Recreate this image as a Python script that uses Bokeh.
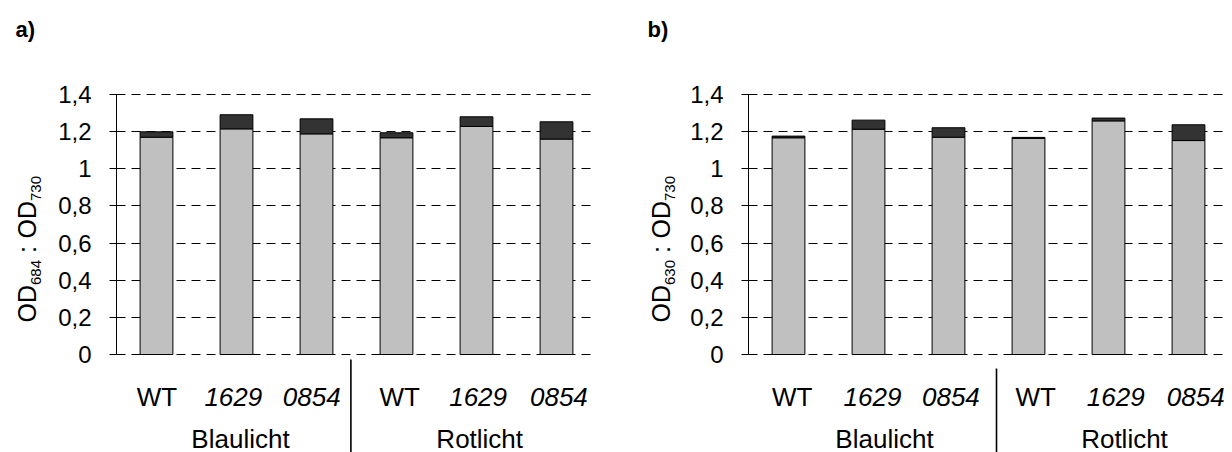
import math
from bokeh.plotting import figure
from bokeh.models import ColumnDataSource, Range1d, FixedTicker, CustomJSTickFormatter
from bokeh.layouts import row
from bokeh.embed import file_html
from bokeh.resources import INLINE
from bokeh.core.properties import value

# ---- data ----
categories = ["WT", "1629", "0854", "WT", "1629", "0854"]
cat_styles = ["normal", "italic", "italic", "normal", "italic", "italic"]
groups = ["Blaulicht", "Rotlicht"]
a_base = [1.170, 1.215, 1.188, 1.167, 1.228, 1.160]
a_extra = [0.029, 0.076, 0.081, 0.027, 0.052, 0.093]
b_base = [1.167, 1.213, 1.170, 1.164, 1.258, 1.152]
b_extra = [0.009, 0.049, 0.051, 0.005, 0.015, 0.085]
y_ticks = [0, 0.2, 0.4, 0.6, 0.8, 1.0, 1.2, 1.4]

# ---- style / layout ----
LIGHT = "#c0c0c0"
DARK = "#333333"
FONT = "Liberation Sans"
FONT_V = value(FONT)
PX = 260 / 1.4          # pixels per y unit


def ydat(px):
    return (354 - px) / PX


def make_panel(base, extra, fig_w, left, lab_x, grp_x, sep_x, sep_top):
    p = figure(width=fig_w, height=452, output_backend="svg", toolbar_location=None,
               x_range=Range1d(0, 6), y_range=Range1d(ydat(452), ydat(0)),
               x_axis_location=None, min_border_left=left, min_border_right=fig_w - left - 480,
               min_border_top=0, min_border_bottom=0)
    p.outline_line_color = None
    p.background_fill_color = "white"
    p.border_fill_color = "white"
    p.xgrid.visible = False

    ax = p.yaxis[0]
    ax.ticker = FixedTicker(ticks=y_ticks)
    ax.bounds = (0, 1.4)
    ax.formatter = CustomJSTickFormatter(code="return String(tick).replace('.', ',');")
    ax.major_label_text_font = FONT
    ax.major_label_text_font_size = "24px"
    ax.major_label_text_color = "black"
    ax.major_tick_in = 7
    ax.major_tick_out = 7
    ax.minor_tick_line_color = None
    ax.axis_line_color = "black"
    ax.major_tick_line_color = "black"
    ax.major_label_standoff = 18

    g = p.ygrid[0]
    g.ticker = FixedTicker(ticks=y_ticks)
    g.grid_line_color = "black"
    g.grid_line_dash = "9 6"
    g.grid_line_width = 1

    src = ColumnDataSource(dict(x=[i + 0.5 for i in range(len(base))], base=base, extra=extra))
    p.vbar_stack(["base", "extra"], x="x", width=0.41, source=src,
                 fill_color=[LIGHT, DARK], line_color="black", line_width=1)

    csrc = ColumnDataSource(dict(x=lab_x, y=[ydat(396)] * len(categories),
                                 text=categories, style=cat_styles))
    p.text(x="x", y="y", text="text", source=csrc, text_font=FONT_V,
           text_font_size="26px", text_font_style="style", text_align="center",
           text_baseline="middle", text_color="black")
    gsrc = ColumnDataSource(dict(x=grp_x, y=[ydat(438)] * len(groups), text=groups))
    p.text(x="x", y="y", text="text", source=gsrc, text_font=FONT_V,
           text_font_size="26px", text_align="center", text_baseline="middle",
           text_color="black")
    p.segment(x0=[sep_x], y0=[ydat(sep_top)], x1=[sep_x], y1=[ydat(452)],
              line_color="black", line_width=1.6)
    return p


def label_fig(width, tag, tag_x, sub1, cap_x):
    f = figure(width=width, height=452, output_backend="svg", toolbar_location=None,
               x_range=Range1d(0, width), y_range=Range1d(0, 452),
               x_axis_location=None, y_axis_location=None, min_border=0)
    f.outline_line_color = None
    f.background_fill_color = "white"
    f.border_fill_color = "white"
    f.grid.visible = False
    f.xgrid.visible = False
    f.ygrid.visible = False
    f.text(x=[tag_x], y=[452 - 29], text=[tag], text_font=FONT_V, text_font_size="22px",
           text_font_style="bold", text_align="left", text_baseline="middle",
           text_color="black")
    # rotated y label with subscripts: (text, start px from top, x centre, size)
    parts = [("OD", 322, cap_x, "25px"), (sub1, 284.5, cap_x + 9, "15px"),
             (":", 252.5, cap_x, "25px"), ("OD", 238, cap_x, "25px"),
             ("730", 200.5, cap_x + 9, "15px")]
    for txt, start, xx, fs in parts:
        f.text(x=[xx], y=[452 - start], text=[txt], angle=math.pi / 2,
               text_font=FONT_V, text_font_size=fs, text_align="left",
               text_baseline="middle", text_color="black")
    return f


la = label_fig(50, "a)", 15, "684", 26)
pa = make_panel(a_base, a_extra, 566, 66,
                [0.506, 1.46, 2.44, 3.54, 4.52, 5.53], [1.55, 4.54], 2.93, 359)
lb = label_fig(66, "b)", 31, "630", 44)
pb = make_panel(b_base, b_extra, 550, 66,
                [0.546, 1.55, 2.53, 3.59, 4.59, 5.59], [1.70, 4.70], 3.10, 368)

layout = row(la, pa, lb, pb)
open("out.html", "w").write(file_html(layout, INLINE))
